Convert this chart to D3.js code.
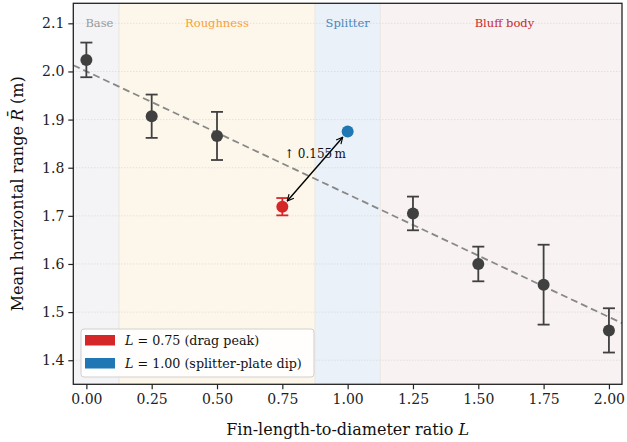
<!DOCTYPE html>
<html><head><meta charset="utf-8">
<script src="https://cdn.jsdelivr.net/npm/d3@7"></script>
<style>
html,body{margin:0;padding:0;background:#fff;}
svg text{font-family:"DejaVu Serif",serif;}
</style></head>
<body><svg id="c" width="627" height="442"></svg>
<script>
// ---- data ----
const finRatio = [0.00, 0.25, 0.50, 0.75, 1.00, 1.25, 1.50, 1.75, 2.00];
const meanRange = [2.024, 1.907, 1.866, 1.719, 1.875, 1.705, 1.600, 1.557, 1.462];
const rangeErr  = [0.036, 0.045, 0.050, 0.018, 0.000, 0.035, 0.036, 0.083, 0.046];
const pointKind = ["base","base","base","peak","dip","base","base","base","base"];
const regionNames = ["Base", "Roughness", "Splitter", "Bluff body"];
const regionStart = [-0.05, 0.125, 0.875, 1.125];
const regionEnd   = [0.125, 0.875, 1.125, 2.05];
const regionLabelX = [0.05, 0.5, 1.0, 1.6];
const trendX = [-0.05, 2.05];
const trendY = [2.013, 1.477];
const xTicks = [0, 0.25, 0.5, 0.75, 1.0, 1.25, 1.5, 1.75, 2.0];
const yTicks = [1.4, 1.5, 1.6, 1.7, 1.8, 1.9, 2.0, 2.1];
const legendLabels = ["0.75 (drag peak)", "1.00 (splitter-plate dip)"];
const annotationText = "\u2191 0.155\u2009m";
const annotationPos = [0.875, 1.82];

// ---- styles ----
const regionFill = ["#f4f4f6", "#fdf7eb", "#ebf1f8", "#f8f2f2"];
const regionText = ["#999999", "#f7a13a", "#4a87b9", "#c62a2c"];
const kindColor = {base:"#404040", peak:"#d62728", dip:"#1f77b4"};

const svg = d3.select("#c");
const L = 73.3, R = 622, T = 3.3, B = 384.3;
const x = d3.scaleLinear().domain([-0.05, 2.05]).range([L, R]);
const y = d3.scaleLinear().domain([1.35, 2.1416]).range([B, T]);

// regions
const regions = regionNames.map((n,i)=>({n, s:regionStart[i], e:regionEnd[i], lx:regionLabelX[i], i}));
svg.append("g").selectAll("rect").data(regions).join("rect")
  .attr("x", d=>x(d.s)).attr("width", d=>x(d.e)-x(d.s))
  .attr("y", T).attr("height", B-T)
  .attr("fill", d=>regionFill[d.i]);
svg.append("g").selectAll("line").data(regions.slice(1)).join("line")
  .attr("x1", d=>x(d.s)).attr("x2", d=>x(d.s)).attr("y1", T).attr("y2", B)
  .attr("stroke", "#ebe7e1").attr("stroke-width", 1);

// grid
svg.append("g").selectAll("line").data(yTicks).join("line")
  .attr("x1", L).attr("x2", R).attr("y1", d=>y(d)).attr("y2", d=>y(d))
  .attr("stroke", "#d0d0d0").attr("stroke-width", 0.8).attr("stroke-dasharray", "1,2");

// region labels
svg.append("g").selectAll("text").data(regions).join("text")
  .attr("x", d=>x(d.lx)).attr("y", y(2.1)+4)
  .attr("text-anchor", "middle").attr("font-size", "11.5px")
  .attr("fill", d=>regionText[d.i]).text(d=>d.n);

// trend line
svg.append("line")
  .attr("x1", x(trendX[0])).attr("y1", y(trendY[0]))
  .attr("x2", x(trendX[1])).attr("y2", y(trendY[1]))
  .attr("stroke", "#888").attr("stroke-width", 1.8).attr("stroke-dasharray", "7,4");

// error bars & points
const pts = finRatio.map((v,i)=>({x:v, y:meanRange[i], e:rangeErr[i], k:pointKind[i]}));
const eb = svg.append("g").selectAll("g").data(pts.filter(d=>d.e>0)).join("g")
  .attr("stroke", d=>kindColor[d.k]).attr("stroke-width", 1.8);
eb.append("line").attr("x1", d=>x(d.x)).attr("x2", d=>x(d.x))
  .attr("y1", d=>y(d.y-d.e)).attr("y2", d=>y(d.y+d.e));
eb.append("line").attr("x1", d=>x(d.x)-6).attr("x2", d=>x(d.x)+6)
  .attr("y1", d=>y(d.y+d.e)).attr("y2", d=>y(d.y+d.e));
eb.append("line").attr("x1", d=>x(d.x)-6).attr("x2", d=>x(d.x)+6)
  .attr("y1", d=>y(d.y-d.e)).attr("y2", d=>y(d.y-d.e));
svg.append("g").selectAll("circle").data(pts).join("circle")
  .attr("cx", d=>x(d.x)).attr("cy", d=>y(d.y)).attr("r", 6)
  .attr("fill", d=>kindColor[d.k]);

// annotation arrow between peak and dip
const pk = pts[3], dp = pts[4];
const defs = svg.append("defs");
defs.append("marker").attr("id","ah").attr("viewBox","0 0 10 10").attr("refX",9).attr("refY",5)
  .attr("markerWidth",8).attr("markerHeight",8).attr("orient","auto-start-reverse")
  .attr("markerUnits","userSpaceOnUse")
  .append("path").attr("d","M1,1 L9,5 L1,9").attr("fill","none").attr("stroke","#000").attr("stroke-width",1.4);
{
  const x1=x(pk.x), y1=y(pk.y), x2=x(dp.x), y2=y(dp.y);
  const dx=x2-x1, dy=y2-y1, len=Math.hypot(dx,dy), s=7.5;
  svg.append("line")
    .attr("x1", x1+dx/len*s).attr("y1", y1+dy/len*s)
    .attr("x2", x2-dx/len*s).attr("y2", y2-dy/len*s)
    .attr("stroke","#000").attr("stroke-width",1.4)
    .attr("marker-start","url(#ah)").attr("marker-end","url(#ah)");
}
svg.append("text").attr("x", x(annotationPos[0])).attr("y", y(annotationPos[1]))
  .attr("text-anchor","middle").attr("font-size","12px").attr("fill","#111")
  .attr("font-family","DejaVu Serif")
  .text(annotationText);

// spines
svg.append("rect").attr("x",L).attr("y",T).attr("width",R-L).attr("height",B-T)
  .attr("fill","none").attr("stroke","#222").attr("stroke-width",1.3);

// axes
const xa = svg.append("g").attr("transform",`translate(0,${B})`)
  .call(d3.axisBottom(x).tickValues(xTicks).tickFormat(d3.format(".2f")).tickSizeOuter(0).tickSize(5).tickPadding(5));
const ya = svg.append("g").attr("transform",`translate(${L},0)`)
  .call(d3.axisLeft(y).tickValues(yTicks).tickFormat(d3.format(".1f")).tickSizeOuter(0).tickSize(5).tickPadding(4));
[xa,ya].forEach(a=>{
  a.select(".domain").remove();
  a.selectAll(".tick line").attr("stroke","#222").attr("stroke-width",1.2);
  a.selectAll(".tick text").attr("font-family","DejaVu Serif").attr("font-size","14px").attr("fill","#222");
});

// axis labels
const xl = svg.append("text").attr("x",(L+R)/2).attr("y",435).attr("text-anchor","middle")
  .attr("font-size","16px").attr("fill","#111");
xl.append("tspan").text("Fin-length-to-diameter ratio ");
xl.append("tspan").attr("font-style","italic").text("L");
const yl = svg.append("text").attr("transform",`translate(23,${(T+B)/2}) rotate(-90)`)
  .attr("text-anchor","middle").attr("font-size","16px").attr("fill","#111");
yl.append("tspan").text("Mean horizontal range ");
yl.append("tspan").attr("font-style","italic").text("R\u0304");
yl.append("tspan").text(" (m)");

// legend
const lg = svg.append("g");
lg.append("rect").attr("x",81).attr("y",329).attr("width",233).attr("height",48).attr("rx",3)
  .attr("fill","#fff").attr("fill-opacity",0.85).attr("stroke","#d0d0d0").attr("stroke-width",1);
const legendColors = [kindColor.peak, kindColor.dip];
legendLabels.forEach((t,i)=>{
  const yy = 335 + i*23;
  lg.append("rect").attr("x",85).attr("y",yy).attr("width",30).attr("height",10.5).attr("fill",legendColors[i]);
  const tx = lg.append("text").attr("x",125).attr("y",yy+10).attr("font-size","12.7px").attr("fill","#111");
  tx.append("tspan").attr("font-style","italic").text("L");
  tx.append("tspan").text(" = " + t);
});
</script></body></html>
